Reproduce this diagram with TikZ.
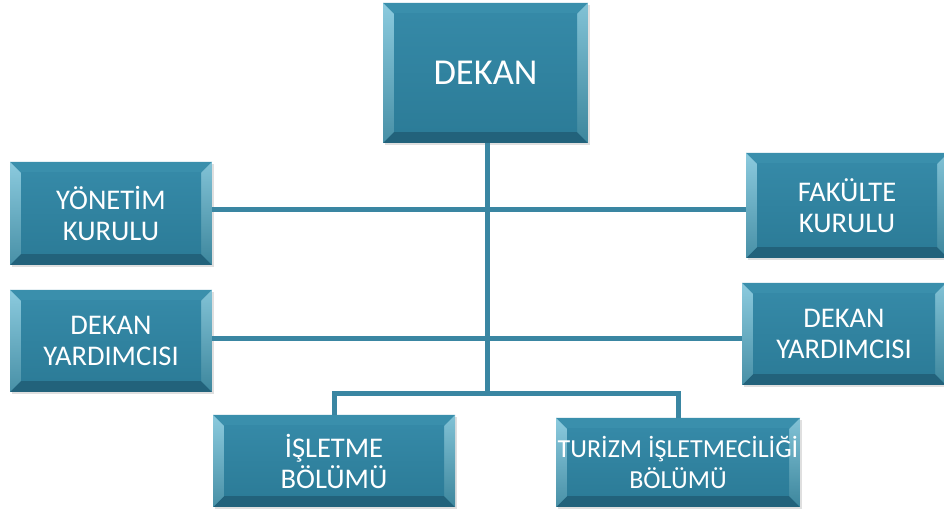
\documentclass[tikz,border=0pt]{standalone}
\usepackage{fontspec}
\newfontfamily\carl{Carlito}
\usetikzlibrary{shadows}
\definecolor{boxbase}{HTML}{2C7D9A}
\definecolor{bevtop}{HTML}{3A8FAC}
\definecolor{bevleft}{HTML}{5AB4D0}
\definecolor{bevright}{HTML}{4CA8C4}
\definecolor{bevbot}{HTML}{22627B}
\definecolor{facetop}{HTML}{3589A7}
\definecolor{facebot}{HTML}{2C7C98}
\definecolor{linecol}{HTML}{3A86A2}
\tikzset{
  bev/.style={rectangle, draw=none, fill=boxbase, text=white, align=center,
    inner sep=0pt, font=\carl\fontsize{28.5}{31}\selectfont,
    drop shadow={opacity=0.25, shadow xshift=2pt, shadow yshift=-2pt},
    path picture={
      \path (path picture bounding box.south west) coordinate (@sw)
            (path picture bounding box.north east) coordinate (@ne)
            (path picture bounding box.north west) coordinate (@nw)
            (path picture bounding box.south east) coordinate (@se);
      \fill[bevtop] (@nw) -- (@ne) -- ([shift={(-11pt,-11pt)}]@ne) -- ([shift={(11pt,-11pt)}]@nw) -- cycle;
      \fill[bevbot] (@sw) -- (@se) -- ([shift={(-11pt,11pt)}]@se) -- ([shift={(11pt,11pt)}]@sw) -- cycle;
      \shade[top color=bevleft!70!white, bottom color=bevleft!80!black] (@sw) -- (@nw) -- ([shift={(11pt,-11pt)}]@nw) -- ([shift={(11pt,11pt)}]@sw) -- cycle;
      \shade[top color=bevright!70!white, bottom color=bevright!80!black] (@se) -- (@ne) -- ([shift={(-11pt,-11pt)}]@ne) -- ([shift={(-11pt,11pt)}]@se) -- cycle;
      \shade[top color=facetop, bottom color=facebot] ([shift={(11pt,11pt)}]@sw) rectangle ([shift={(-11pt,-11pt)}]@ne);
    }},
  conn/.style={draw=linecol, line width=5pt}
}
\begin{document}
\begin{tikzpicture}[x=1pt,y=1pt]
\useasboundingbox (0,0) rectangle (944,513);
\fill[white] (0,0) rectangle (944,513);
\node[bev, minimum width=205pt, minimum height=140pt, font=\carl\fontsize{36.5}{40}\selectfont] (dekan) at (485.5,440) {DEKAN};
\node[bev, minimum width=202pt, minimum height=103pt] (yk) at (111,299.5) {YÖNETİM\\KURULU};
\node[bev, minimum width=202pt, minimum height=105pt] (fk) at (847,307.5) {FAKÜLTE\\KURULU};
\node[bev, minimum width=202pt, minimum height=102pt] (dyl) at (111,172) {DEKAN\\YARDIMCISI};
\node[bev, minimum width=204pt, minimum height=102pt] (dyr) at (844,179) {DEKAN\\YARDIMCISI};
\node[bev, minimum width=242pt, minimum height=92pt] (isl) at (334,52) {İŞLETME\\BÖLÜMÜ};
\node[bev, minimum width=244pt, minimum height=89pt, font=\carl\fontsize{26}{31}\selectfont] (tur) at (678,50.5) {TURİZM İŞLETMECİLİĞİ\\BÖLÜMÜ};
\coordinate (j1) at (487,303);
\coordinate (j2) at (487,174);
\coordinate (jb) at (487,119);
\draw[conn] (dekan.south -| jb) -- (jb);
\draw[conn] (yk.east |- j1) -- (fk.west |- j1);
\draw[conn] (dyl.east |- j2) -- (dyr.west |- j2);
\draw[conn, line join=miter] (isl.north) |- (jb) -| (tur.north);
\end{tikzpicture}
\end{document}
